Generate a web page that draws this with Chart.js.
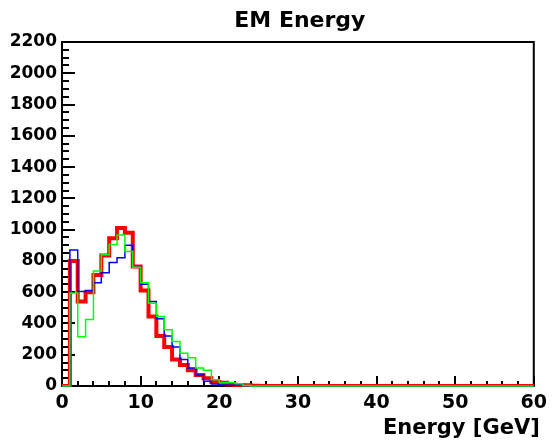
<!DOCTYPE html>
<html>
<head>
<meta charset="utf-8">
<title>EM Energy</title>
<script src="https://cdn.jsdelivr.net/npm/chart.js@4.4.1/dist/chart.umd.min.js"></script>
<style>
  html, body { margin: 0; padding: 0; background: #fff; }
  #wrap { width: 553px; height: 440px; }
</style>
</head>
<body>
<div id="wrap"><canvas id="myChart" width="553" height="440"></canvas></div>
<script>
// histogram contents, one entry per 1 GeV bin (low edges 0..59)
const binEdges = [0, 1, 2, 3, 4, 5, 6, 7, 8, 9, 10, 11, 12, 13, 14, 15, 16, 17, 18, 19,
  20, 21, 22, 23, 24, 25, 26, 27, 28, 29, 30, 31, 32, 33, 34, 35, 36, 37, 38, 39,
  40, 41, 42, 43, 44, 45, 46, 47, 48, 49, 50, 51, 52, 53, 54, 55, 56, 57, 58, 59, 60];

const redCounts = [0, 800, 540, 600, 710, 835, 945, 1010, 980, 765,
  610, 445, 320, 250, 170, 135, 100, 70, 50, 26,
  20, 10, 6, 4, 2, 0, 0, 0, 0, 0,
  0, 0, 0, 0, 0, 0, 0, 0, 0, 0,
  0, 0, 0, 0, 0, 0, 0, 0, 0, 0,
  0, 0, 0, 0, 0, 0, 0, 0, 0, 0];

const blueCounts = [0, 870, 605, 610, 660, 725, 790, 820, 900, 760,
  650, 540, 430, 320, 250, 170, 115, 70, 30, 12,
  6, 4, 8, 2, 0, 0, 0, 0, 0, 0,
  0, 0, 0, 0, 0, 0, 0, 0, 0, 0,
  0, 0, 0, 0, 0, 0, 0, 0, 0, 0,
  0, 0, 0, 0, 0, 0, 0, 0, 0, 0];

const greenCounts = [0, 595, 315, 425, 735, 840, 905, 965, 860, 760,
  660, 530, 445, 360, 285, 210, 180, 115, 100, 40,
  20, 22, 15, 3, 0, 0, 0, 0, 0, 0,
  0, 0, 0, 0, 0, 0, 0, 0, 0, 0,
  0, 0, 0, 0, 0, 0, 0, 0, 0, 0,
  0, 0, 0, 0, 0, 0, 0, 0, 0, 0];

const xTicks = [0, 10, 20, 30, 40, 50, 60];
const yTicks = [0, 200, 400, 600, 800, 1000, 1200, 1400, 1600, 1800, 2000, 2200];
const xMinorStep = 2;
const yMinorStep = 50;

const FONT = "DejaVu Sans";

// step outline: bin i sits flat from edge i to edge i+1 ("before" stepping)
const toSteps = (counts) => {
  const pts = counts.map((c, i) => ({ x: binEdges[i], y: c }));
  pts.push({ x: binEdges[counts.length], y: counts[counts.length - 1] });
  return pts;
};

// ROOT-like frame with ticks pointing into the pad
const frameTicks = {
  id: "frameTicks",
  beforeDatasetsDraw(chart) {
    const { ctx, chartArea: a, scales: { x, y } } = chart;
    ctx.save();
    ctx.strokeStyle = "#000";
    ctx.lineWidth = 2;
    ctx.lineCap = "butt";
    ctx.strokeRect(a.left, a.top, a.right - a.left, a.bottom - a.top);

    ctx.beginPath();
    for (let v = x.min; v <= x.max; v += xMinorStep) {
      const px = Math.round(x.getPixelForValue(v));
      const len = xTicks.includes(v) ? 10 : 5;
      ctx.moveTo(px, a.bottom);
      ctx.lineTo(px, a.bottom - len);
    }
    for (let v = y.min; v <= y.max; v += yMinorStep) {
      const py = Math.round(y.getPixelForValue(v));
      const len = yTicks.includes(v) ? 13 : 7;
      ctx.moveTo(a.left, py);
      ctx.lineTo(a.left + len, py);
    }
    ctx.stroke();
    ctx.restore();
  }
};

// pad title over the frame and the x-axis title flush with the right edge
const padText = {
  id: "padText",
  afterDraw(chart) {
    const { ctx, chartArea: a } = chart;
    ctx.save();
    ctx.fillStyle = "#000";
    ctx.textBaseline = "alphabetic";
    ctx.font = "bold 22px '" + FONT + "'";
    ctx.textAlign = "center";
    ctx.fillText("EM Energy", (a.left + a.right) / 2 + 2, 27);
    ctx.font = "bold 21px '" + FONT + "'";
    ctx.textAlign = "right";
    ctx.fillText("Energy [GeV]", a.right + 6, 434);
    ctx.restore();
  }
};

const histLine = (counts, color, width, order) => ({
  data: toSteps(counts),
  borderColor: color,
  borderWidth: width,
  stepped: "before",
  fill: false,
  pointRadius: 0,
  borderJoinStyle: "miter",
  borderCapStyle: "butt",
  clip: { left: 2, top: 2, right: 2, bottom: 1 },
  order: order
});

const ctx = document.getElementById("myChart").getContext("2d");

new Chart(ctx, {
  type: "line",
  data: {
    datasets: [
      histLine(redCounts, "rgb(255,0,0)", 4, 3),
      histLine(blueCounts, "rgb(0,0,255)", 1.5, 2),
      histLine(greenCounts, "rgb(0,255,0)", 1.5, 1)
    ]
  },
  options: {
    responsive: false,
    animation: false,
    devicePixelRatio: 1,
    layout: { padding: { top: 42, right: 13, bottom: 0, left: 0 } },
    plugins: {
      legend: { display: false },
      tooltip: { enabled: false },
      title: { display: false }
    },
    scales: {
      x: {
        type: "linear",
        min: 0,
        max: 60,
        afterBuildTicks: (s) => { s.ticks = xTicks.map((v) => ({ value: v })); },
        afterFit: (s) => { s.height = 54; },
        grid: { display: false, drawTicks: false },
        border: { display: false },
        ticks: {
          color: "#000",
          padding: 6,
          maxRotation: 0,
          autoSkip: false,
          callback: (v) => String(v),
          font: { family: FONT, weight: "bold", size: 19 }
        }
      },
      y: {
        type: "linear",
        min: 0,
        max: 2200,
        afterBuildTicks: (s) => { s.ticks = yTicks.map((v) => ({ value: v })); },
        afterFit: (s) => { s.width = 62; },
        grid: { display: false, drawTicks: false },
        border: { display: false },
        ticks: {
          color: "#000",
          padding: 5,
          autoSkip: false,
          callback: (v) => String(v),
          font: { family: FONT, weight: "bold", size: 17 }
        }
      }
    }
  },
  plugins: [frameTicks, padText]
});
</script>
</body>
</html>
